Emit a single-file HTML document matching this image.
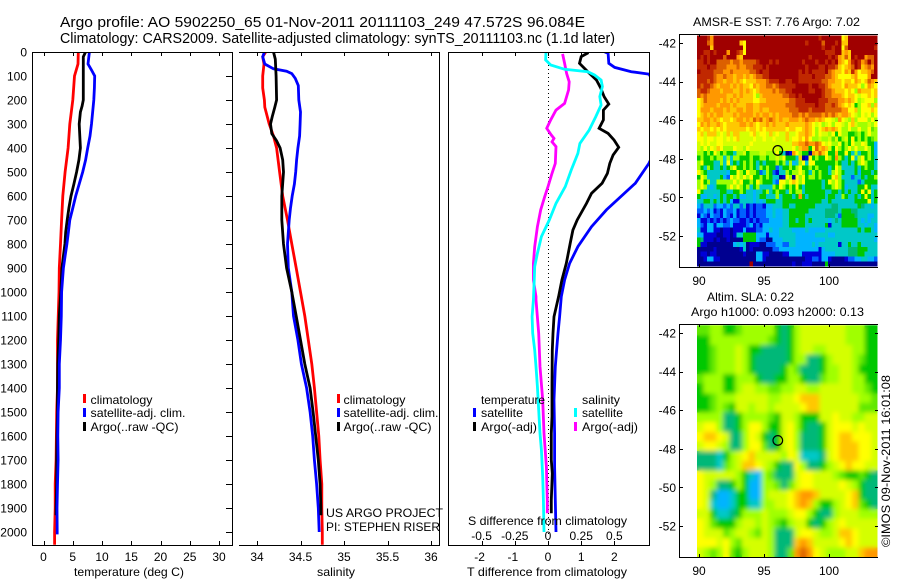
<!DOCTYPE html>
<html lang="en">
<head>
<meta charset="utf-8">
<title>Argo profile 5902250_65</title>
<style>
html,body{margin:0;padding:0;background:#fff;}
#chart{display:block;width:900px;height:580px;}
text{font-family:"Liberation Sans",sans-serif;font-size:12px;fill:#000;}
</style>
</head>
<body>
<svg id="chart" xmlns="http://www.w3.org/2000/svg" width="900" height="580" viewBox="0 0 900 580">
<defs>
<clipPath id="clip-temp"><rect x="33" y="52" width="199" height="493"/></clipPath>
<clipPath id="clip-sal"><rect x="239" y="52" width="200" height="493"/></clipPath>
<clipPath id="clip-diff"><rect x="449" y="52" width="200" height="493"/></clipPath>
<clipPath id="clip-sla"><rect x="697" y="325" width="180.5" height="232"/></clipPath>
<filter id="sla-blur" x="-5%" y="-5%" width="110%" height="110%"><feGaussianBlur stdDeviation="2.4"/></filter>
</defs>
<rect width="900" height="580" fill="#fff"/>
<text x="60" y="27" font-size="14.5" style="font-size:14.5px" textLength="525" lengthAdjust="spacingAndGlyphs">Argo profile: AO 5902250_65 01-Nov-2011 20111103_249 47.572S 96.084E</text>
<text x="60" y="43" style="font-size:14.5px" textLength="555" lengthAdjust="spacingAndGlyphs">Climatology: CARS2009. Satellite-adjusted climatology: synTS_20111103.nc (1.1d later)</text>
<g id="temp-panel"></g>
<g id="sal-panel"></g>
<g id="diff-panel"></g>
<g id="sst-map"></g>
<g id="sla-map"></g>

<g>
<rect x="83" y="394" width="3" height="9" fill="#f00"/>
<rect x="83" y="408" width="3" height="9" fill="#00f"/>
<rect x="83" y="422" width="3" height="9" fill="#000"/>
<text x="90.5" y="404" textLength="62" lengthAdjust="spacingAndGlyphs">climatology</text>
<text x="90.5" y="417" textLength="95" lengthAdjust="spacingAndGlyphs">satellite-adj. clim.</text>
<text x="90.5" y="431" textLength="88" lengthAdjust="spacingAndGlyphs">Argo(..raw -QC)</text>
</g>
<g>
<rect x="337" y="394" width="3" height="9" fill="#f00"/>
<rect x="337" y="408" width="3" height="9" fill="#00f"/>
<rect x="337" y="422" width="3" height="9" fill="#000"/>
<text x="343.5" y="404" textLength="62" lengthAdjust="spacingAndGlyphs">climatology</text>
<text x="343.5" y="417" textLength="95" lengthAdjust="spacingAndGlyphs">satellite-adj. clim.</text>
<text x="343.5" y="431" textLength="88" lengthAdjust="spacingAndGlyphs">Argo(..raw -QC)</text>
</g>
<g>
<text x="481" y="404" textLength="64" lengthAdjust="spacingAndGlyphs">temperature</text>
<rect x="473" y="408" width="3" height="9" fill="#00f"/>
<rect x="473" y="422" width="3" height="9" fill="#000"/>
<text x="481" y="417" textLength="42" lengthAdjust="spacingAndGlyphs">satellite</text>
<text x="481" y="431" textLength="56" lengthAdjust="spacingAndGlyphs">Argo(-adj)</text>
<text x="582" y="404" textLength="38" lengthAdjust="spacingAndGlyphs">salinity</text>
<rect x="574" y="408" width="3" height="9" fill="#0ff"/>
<rect x="574" y="422" width="3" height="9" fill="#f0f"/>
<text x="582" y="417" textLength="41" lengthAdjust="spacingAndGlyphs">satellite</text>
<text x="582" y="431" textLength="56" lengthAdjust="spacingAndGlyphs">Argo(-adj)</text>
</g>

<text x="74" y="576" textLength="110" lengthAdjust="spacingAndGlyphs">temperature (deg C)</text>
<text x="317" y="576" textLength="38" lengthAdjust="spacingAndGlyphs">salinity</text>
<text x="326" y="517" textLength="117" lengthAdjust="spacingAndGlyphs">US ARGO PROJECT</text>
<text x="326" y="531" textLength="114" lengthAdjust="spacingAndGlyphs">PI: STEPHEN RISER</text>
<text x="468" y="525" textLength="159" lengthAdjust="spacingAndGlyphs">S difference from climatology</text>
<text x="467" y="576" textLength="160" lengthAdjust="spacingAndGlyphs">T difference from climatology</text>
<text x="693" y="26" textLength="167" lengthAdjust="spacingAndGlyphs">AMSR-E SST: 7.76 Argo: 7.02</text>
<text x="707" y="301" textLength="87" lengthAdjust="spacingAndGlyphs">Altim. SLA: 0.22</text>
<text x="691" y="316" textLength="173" lengthAdjust="spacingAndGlyphs">Argo h1000: 0.093 h2000: 0.13</text>
<text transform="translate(890,547) rotate(-90)" x="0" y="0" textLength="172" lengthAdjust="spacingAndGlyphs">©IMOS 09-Nov-2011 16:01:08</text>
</svg>

<script>
// Depth axis
const depthTicks = [0,100,200,300,400,500,600,700,800,900,1000,1100,1200,1300,1400,1500,1600,1700,1800,1900,2000];

// Temperature panel
const tempTicks = [0,5,10,15,20,25,30];
const climTempDepth = [0,50,100,200,300,400,500,600,700,800,900,1000,1200,1400,1500,1700,1800,1900,2000,2053];
const climTemp = [5.95,5.9,5.3,5.0,4.5,4.2,3.7,3.3,3.1,2.9,2.7,2.65,2.4,2.4,2.25,2.15,2.0,2.0,1.9,1.9];
const satTempDepth = [0,50,75,100,150,200,300,350,400,450,500,550,600,650,700,750,800,850,900,1000,1100,1200,1300,1400,1500,1600,1700,1800,1900,2010];
const satTemp = [7.85,7.6,8.2,8.75,8.7,8.6,8.2,7.95,7.55,7.2,6.7,6.1,5.5,5.0,4.5,4.25,4.0,3.7,3.4,3.1,3.05,2.9,2.7,2.7,2.5,2.45,2.5,2.4,2.3,2.35];
const argoTempDepth = [0,20,100,200,225,250,300,350,400,450,500,550,600,650,700,750,800,850,900,1000,1100,1200,1300,1400,1500,1600,1700,1800,1900,1930];
const argoTemp = [7.2,6.8,6.8,6.8,6.6,6.3,6.1,6.2,6.3,6.05,5.65,5.2,4.7,4.35,4.05,3.8,3.65,3.4,3.15,2.95,2.7,2.6,2.45,2.4,2.4,2.3,2.25,2.25,2.15,2.15];

// Salinity panel
const salTicks = [34,34.5,35,35.5,36];
const salTickLabels = ["34","34.5","35","35.5","36"];
const climSalDepth = [0,20,50,100,150,200,230,300,350,400,500,600,700,800,900,1000,1100,1200,1300,1400,1500,1600,1700,1800,1900,2000,2053];
const climSal = [34.10,34.065,34.08,34.065,34.065,34.085,34.09,34.14,34.19,34.225,34.26,34.295,34.35,34.40,34.45,34.50,34.55,34.59,34.63,34.66,34.685,34.71,34.725,34.745,34.745,34.75,34.75];
const satSalDepth = [0,20,50,70,80,90,110,140,200,250,300,350,400,450,500,550,600,650,700,800,900,1000,1100,1200,1300,1400,1500,1600,1700,1800,1900,2000];
const satSal = [34.085,34.065,34.09,34.19,34.34,34.40,34.44,34.475,34.48,34.50,34.495,34.49,34.47,34.455,34.445,34.43,34.405,34.385,34.37,34.35,34.36,34.40,34.42,34.47,34.51,34.57,34.61,34.64,34.66,34.685,34.705,34.715];
const argoSalDepth = [0,30,100,200,230,270,300,340,370,400,450,500,600,700,800,900,1000,1100,1200,1300,1400,1500,1600,1700,1800,1900,1930];
const argoSal = [34.19,34.21,34.22,34.225,34.205,34.175,34.155,34.17,34.225,34.265,34.295,34.305,34.285,34.285,34.305,34.34,34.40,34.45,34.50,34.55,34.61,34.645,34.675,34.705,34.725,34.735,34.735];

// Difference panel
const diffTTicks = [-2,-1,0,1,2];
const diffTTickLabels = ["-2","-1","0","1","2"];
const diffSTicks = [-0.5,-0.25,0,0.25,0.5];
const diffSTickLabels = ["-0.5","-0.25","0","0.25","0.5"];
const satDiffTDepth = [0,5,47,64,82,92,150,300,464,547,658,728,811,881,950,1019,1103,1172,1242,1311,1450,1589,1728,1867,2000];
const satDiffT = [1.71,1.81,1.83,2.01,2.51,3.04,3.3,3.6,3.04,2.63,1.76,1.31,0.90,0.65,0.50,0.40,0.35,0.30,0.26,0.22,0.18,0.20,0.20,0.22,0.24];
const argoDiffTDepth = [0,5,19,47,82,117,151,186,217,242,283,318,339,367,397,429,464,506,547,589,631,700,742,797,881,950,1019,1103,1172,1242,1381,1519,1589,1700,1756,1867,1922];
const argoDiffT = [1.19,1.19,1.0,0.95,1.2,1.46,1.59,1.69,1.83,1.67,1.67,1.54,1.81,1.99,2.13,1.96,1.86,1.79,1.63,1.31,1.16,0.88,0.75,0.67,0.55,0.42,0.32,0.18,0.15,0.13,0.12,0.12,0.10,0.10,0.13,0.10,0.10];
const satDiffSDepth = [0,33,54,72,82,96,117,144,186,221,269,325,381,422,492,561,631,700,769,839,894,964,1033,1103,1172,1242,1311,1394,1492,1589,1658,1769,1867,2000];
const satDiffS = [-0.015,-0.018,0.02,0.125,0.30,0.35,0.40,0.41,0.39,0.40,0.36,0.31,0.24,0.225,0.175,0.13,0.06,0.01,-0.05,-0.08,-0.10,-0.105,-0.11,-0.12,-0.115,-0.10,-0.09,-0.08,-0.07,-0.06,-0.05,-0.04,-0.035,-0.03];
const argoDiffSDepth = [8,47,89,124,158,214,242,283,318,346,360,374,394,464,506,561,603,658,728,811,881,950,1019,1033,1172,1311,1450,1589,1728,1867,1922];
const argoDiffS = [0.11,0.125,0.14,0.16,0.155,0.125,0.06,0.02,-0.01,0.025,0.045,0.03,0.06,0.055,0.03,0,-0.025,-0.055,-0.08,-0.10,-0.11,-0.11,-0.09,-0.09,-0.07,-0.06,-0.04,-0.03,-0.012,-0.005,-0.005];

// Map axes
const mapLonTicks = [90,95,100];
const mapLatTicks = [-42,-44,-46,-48,-50,-52];
const profileLon = [96.084];
const profileLat = [-47.572];

// Colour class for each SST / SLA cell (hex digit, cold to warm), row by row north to south
const mapLevels = ["#000090","#0000d8","#0060ff","#00b4ff","#00c8c8","#00b878","#00c800","#60e800","#a0ff00","#d4ff00","#ffff00","#ffc800","#ff9800","#dc6000","#c02800","#a00000"];
const sstRows = [
"fffec fffff fffff fffff fffff fffff fffff ffeff ffffa bffff fffff",
"fffdc fffff fffba fffff fffff fffff fffef fffdf ffefb bffff fffff",
"ffffb fffff ffffa fffff fffff fffff fffff fffef feffa dffff ffffe",
"ffeef efffc ffeda fffff fffff fffff fffff ffffe eeffb cbfff fffff",
"fefef fffdf ffcbf fffff fffff fffff ffffe fffff efecb dbfef fcddf",
"eefef fdddd cddcd dddef ffefe fffff ffeff feffe fefcb acefe cdfdf",
"eeefe edddc ccdcc ddeee fefff fffff fffef ffeef eedba bcdfe bcdcf",
"feeee dddcc dcccc cddef eefff fffff fefef eeeef dcbba cbeca bbcdf",
"eeeee dccdc cbccb cbcdd eefff fffff feeee feeed dcbaa aabca aacff",
"eeede dccbc cbcba bbbcc cdeee ffeef feeee eeedd ccbba bbacb abdcb",
"edeed cbccc bcbcb bacbc cddcd eeeee ffffe ffeed cbbba cbbba 8acba",
"deedc ccbcc cbbcb cbabc cccdc ddeef ffffe effed dcbbb aba8c bbbab",
"dcdcc ccccb bcbcb bba8b ccccc cddee fefff fffed dcccb abba9 aabab",
"abdcc ccbcb cbcbb bbaab bcccc cccdd eeeff ffeee dddcc bcba8 9aaa8",
"abccc cbccc bcbbb ccbbc ccccc ccddd eeeee efeed dedcb aba68 aab8b",
"acccb cccbc bbccb ccbbc bbccc cccdd deeed eeeed ddddc caab8 aaaba",
"abcbc bccbb bcbcc ccbcb ccbcb ccccd dcdcd dddcd cdcbc cba98 a9a8a",
"bbccb cbabb abccb cbdcd bcdcb cbbcc cbcdc cbcba a98ca 98b8a aa8a8",
"acbcb bcbab bbbcc bcbab bcbcb bbcbb bbbcb a9a89 a8aa9 8ab98 8898a",
"babba babab bbbbb abbab abbbb bbabb aabcb a8abc bcba8 8a88a 88a78",
"ab9bb b9a9b 9bb99 9ab9a a9b9a 99b99 abbcb a8a99 8a6a8 86678 68a88",
"aa9aa 9aa9a 9ab99 99a99 a99a9 99b9a abaca 88988 97968 96a68 68678",
"9a9a9 9aa99 99999 9a999 99999 9999b bccdc cdca9 a88a6 86a88 a9663",
"98a8a 9ba88 8a998 a9999 99999 8999a 8bcc6 adbcb 96a86 8a8a8 8a863",
"88686 a8686 64889 68889 9888a 6401c a8660 cbdba 66b66 a6484 66863",
"68668 68848 48866 68668 86889 8a666 4b01a 6866a 86c86 46a48 a6864",
"8a666 4484a 46468 68646 46668 68483 48a4a a6666 66864 46468 a8664",
"86486 44646 8a668 68648 68662 46686 8a668 68666 46a84 44464 68664",
"a8644 44443 66a86 a8862 48621 44868 8a864 86866 48a86 44463 66646",
"6a844 44632 a8a8a 8a668 68644 01a80 a8a68 86866 6ab84 44244 64668",
"8a684 48888 8a8a6 686a8 66632 aa8ab a8a66 66646 a8a86 44442 46666",
"8a843 46668 a8a86 84684 44486 a8686 a6466 66646 68a86 34446 6a644",
"a6444 44664 46686 44344 68468 66486 88466 66664 46646 46446 a6a46",
"63344 34646 64633 44346 64448 46664 6c646 66664 66448 64464 6a646",
"44664 64646 31144 44343 46664 46666 66666 66644 64444 44466 66a46",
"32444 23323 24424 12122 13344 46644 66666 64444 45544 44446 54434",
"22323 12132 23122 12122 23343 34466 66664 44445 55546 66554 44444",
"13213 22132 13122 12122 23343 34466 66644 44445 55426 66654 44334",
"31121 21212 32211 21212 22333 34466 46646 44444 34546 66664 34344",
"32133 13322 31111 23121 33333 34466 66644 44446 14446 66664 43443",
"41133 11011 01113 11122 33433 44443 33343 33334 44444 44446 46643",
"33111 10011 01446 66633 31333 44444 33333 34444 33444 44444 44444",
"65111 01001 00006 66632 20033 34444 33333 33334 44444 44444 44443",
"61100 00000 03434 01110 02223 32244 33333 43444 44414 46446 44444",
"00000 10000 00014 01000 00022 33333 33333 33134 44444 45556 66444",
"01101 10000 00001 00033 11000 01133 33111 11133 33444 45556 64444",
"00133 11000 00000 00033 10000 00000 00011 22133 10000 12233 44332",
"00000 00000 00000 0f000 00000 00001 00111 00006 00000 00000 00000"
];
const slaRows = [
"7788667 8888865 6899999 9988866",
"6688888 8888765 6899999 9988866",
"6678889 8665555 6899889 9998866",
"6678889 8655555 6885568 9998766",
"6678889 8655556 8755568 8998666",
"7888668 8865566 8865578 8998866",
"6888668 9988778 8998899 9998876",
"6678889 9999889 9abbb99 9999887",
"6678769 9899899 99abb99 9999777",
"8888556 8888769 9866699 a998899",
"9aa8556 8aa8669 a865569 aaa9a99",
"abba955 8a96569 a855569 abbaaa9",
"9aa9855 8aa7569 a855569 abbbaa9",
"5554689 ab99998 a944459 abbbaa9",
"5554789 bba9865 5a85568 9abaa99",
"a999998 6438755 59aa999 8766765",
"a985568 6338875 79aa999 9a98655",
"a953346 6338999 abccb99 99ab655",
"a943346 6448899 abcb866 89ab765",
"9964456 8889888 9aa8655 8999888",
"a976668 9989876 8996568 9a99999",
"a999789 9879855 59aa988 9bba999",
"aaa9a87 9999855 5bcb999 9aba999",
"9878a76 8999855 7cdca98 8899bcc"
];

// Axis functions
const depthY = d => 52 + 0.24 * d;
const tempX = v => 43.5 + 5.85 * v;
const salX = v => 257 + 87 * (v - 34);
const diffTX = v => 548 + 33.2 * v;
const diffSX = v => 548 + 132.8 * v;
const lonX = v => 699 + 13 * (v - 90);
const sstLatY = v => 43 + 19.3 * (-42 - v);
const slaLatY = v => 333 + 19.3 * (-42 - v);

const SVGNS = "http://www.w3.org/2000/svg";
function el(tag, parent, name, attrs, txt) {
  const e = document.createElementNS(SVGNS, tag);
  for (const k in attrs) e.setAttribute(k, attrs[k]);
  
  
  if (txt !== undefined) e.textContent = txt;
  parent.appendChild(e);
  return e;
}
function hline(p, name, x1, x2, y) { return el('line', p, name, {x1:x1,x2:x2,y1:y,y2:y,stroke:'#000','stroke-width':1,'shape-rendering':'crispEdges'}); }
function vline(p, name, x, y1, y2) { return el('line', p, name, {x1:x,x2:x,y1:y1,y2:y2,stroke:'#000','stroke-width':1,'shape-rendering':'crispEdges'}); }
function label(p, name, x, y, anchor, txt) { return el('text', p, name, {x:x,y:y,'text-anchor':anchor}, txt); }
function series(p, name, depths, values, xf, color, clip) {
  const pts = depths.map((d, i) => xf(values[i]).toFixed(1) + ',' + depthY(d).toFixed(1)).join(' ');
  return el('polyline', p, name, {points:pts,fill:'none',stroke:color,'stroke-width':2.8,'stroke-linejoin':'miter','clip-path':'url(#' + clip + ')'});
}
function xTicks(p, prefix, ticks, xf) {
  ticks.forEach(t => {
    vline(p, prefix + '-top-tick', Math.round(xf(t)) + 0.5, 52, 56);
    vline(p, prefix + '-bottom-tick', Math.round(xf(t)) + 0.5, 541, 545);
  });
}

// Temperature panel
const tp = document.getElementById('temp-panel');
series(tp, 'climatology-temperature-line', climTempDepth, climTemp, tempX, '#f00', 'clip-temp');
series(tp, 'argo-temperature-line', argoTempDepth, argoTemp, tempX, '#000', 'clip-temp');
series(tp, 'satellite-temperature-line', satTempDepth, satTemp, tempX, '#00f', 'clip-temp');
hline(tp, 'temperature-top-spine', 32, 232, 52.5);
hline(tp, 'temperature-bottom-spine', 32, 232, 545.5);
vline(tp, 'temperature-left-spine', 32.5, 52, 546);
vline(tp, 'temperature-right-spine', 232.5, 52, 546);
xTicks(tp, 'temperature', tempTicks, tempX);
tempTicks.forEach(t => label(tp, 'temperature-tick-label', tempX(t), 561, 'middle', String(t)));
depthTicks.forEach(d => {
  hline(tp, 'depth-tick', 226, 232, Math.round(depthY(d)) + 0.5);
  label(tp, 'depth-tick-label', 27, depthY(d) + 4.5, 'end', String(d));
});

// Salinity panel
const sp = document.getElementById('sal-panel');
series(sp, 'climatology-salinity-line', climSalDepth, climSal, salX, '#f00', 'clip-sal');
series(sp, 'satellite-salinity-line', satSalDepth, satSal, salX, '#00f', 'clip-sal');
series(sp, 'argo-salinity-line', argoSalDepth, argoSal, salX, '#000', 'clip-sal');
hline(sp, 'salinity-top-spine', 239, 440, 52.5);
hline(sp, 'salinity-bottom-spine', 239, 440, 545.5);
vline(sp, 'salinity-right-spine', 439.5, 52, 546);
xTicks(sp, 'salinity', salTicks, salX);
salTicks.forEach((t, i) => label(sp, 'salinity-tick-label', salX(t), 561, 'middle', salTickLabels[i]));

// Difference panel
const dp = document.getElementById('diff-panel');
el('line', dp, 'zero-difference-line', {x1:548.5,x2:548.5,y1:53,y2:535,stroke:'#000','stroke-width':1,'stroke-dasharray':'1 3'});
series(dp, 'satellite-t-difference-line', satDiffTDepth, satDiffT, diffTX, '#00f', 'clip-diff');
series(dp, 'argo-t-difference-line', argoDiffTDepth, argoDiffT, diffTX, '#000', 'clip-diff');
series(dp, 'argo-s-difference-line', argoDiffSDepth, argoDiffS, diffSX, '#f0f', 'clip-diff');
series(dp, 'satellite-s-difference-line', satDiffSDepth, satDiffS, diffSX, '#0ff', 'clip-diff');
hline(dp, 'difference-top-spine', 448, 650, 52.5);
hline(dp, 'difference-bottom-spine', 448, 650, 545.5);
vline(dp, 'difference-left-spine', 448.5, 52, 546);
vline(dp, 'difference-right-spine', 649.5, 52, 546);
xTicks(dp, 'difference', diffTTicks, diffTX);
diffTTicks.forEach((t, i) => label(dp, 't-difference-tick-label', diffTX(t) - (t < 0 ? 2 : 0), 561, 'middle', diffTTickLabels[i]));
diffSTicks.forEach((t, i) => label(dp, 's-difference-tick-label', diffSX(t), 540, 'middle', diffSTickLabels[i]));

// Maps
function drawRows(p, rows, left, top, cw, ch, name) {
  rows.forEach((row, r) => {
    const cells = row.replace(/ /g, '');
    for (let c = 0; c < cells.length; c++) {
      el('rect', p, name, {x:left + c * cw, y:top + r * ch, width:cw + 0.3, height:ch + 0.3, fill:mapLevels[parseInt(cells[c], 16)], 'shape-rendering':'crispEdges'});
    }
  });
}
function mapFrame(p, prefix, top, bottom, latY) {
  hline(p, prefix + '-top-spine', 679, 878, top + 0.5);
  hline(p, prefix + '-bottom-spine', 679, 878, bottom + 0.5);
  vline(p, prefix + '-left-spine', 679.5, top, bottom + 1);
  mapLonTicks.forEach(t => {
    vline(p, prefix + '-top-tick', lonX(t) + 0.5, top, top + 3);
    vline(p, prefix + '-bottom-tick', lonX(t) + 0.5, bottom - 3, bottom);
    label(p, prefix + '-lon-tick-label', lonX(t), bottom + 18, 'middle', String(t));
  });
  mapLatTicks.forEach(t => {
    hline(p, prefix + '-left-tick', 679, 683, Math.round(latY(t)) + 0.5);
    hline(p, prefix + '-right-tick', 875, 878, Math.round(latY(t)) + 0.5);
    label(p, prefix + '-lat-tick-label', 676, latY(t) + 4.5, 'end', String(t));
  });
}
function marker(p, name, lon, lat) {
  el('circle', p, name, {cx:lon, cy:lat, r:4.8, fill:'none', stroke:'#000', 'stroke-width':1.2});
}

const sm = document.getElementById('sst-map');
drawRows(sm, sstRows, 697, 35.7, 3.28, 4.8, 'sst-cell');
mapFrame(sm, 'sst', 34, 267, sstLatY);
marker(sm, 'sst-profile-marker', lonX(profileLon[0]) - 0.3, sstLatY(profileLat[0]) - 0.1);

const lm = document.getElementById('sla-map');
const slaClip = el('g', lm, 'sla-cells', {'clip-path':'url(#clip-sla)'});
drawRows(slaClip, slaRows, 697, 325.7, 6.45, 9.65, 'sla-cell-base');
const slaBlur = el('g', slaClip, 'sla-smoothed-cells', {filter:'url(#sla-blur)'});
drawRows(slaBlur, slaRows, 697, 325.7, 6.45, 9.65, 'sla-cell');
mapFrame(lm, 'sla', 324, 557, slaLatY);
marker(lm, 'sla-profile-marker', lonX(profileLon[0]) - 0.3, slaLatY(profileLat[0]) - 0.1);
</script>
</body>
</html>
